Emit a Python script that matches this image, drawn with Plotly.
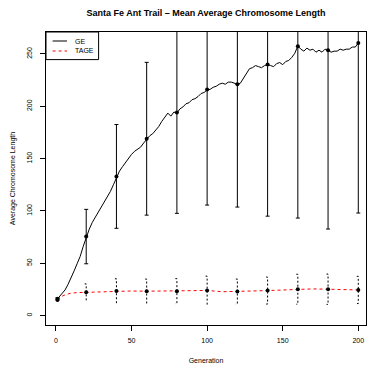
import plotly.graph_objects as go

# ---- data ----
ge_gen = [1, 2, 4, 6, 8, 10, 12, 14, 16, 18, 20, 22, 24, 26, 28, 30, 32, 34, 36, 38,
          40, 42, 44, 46, 48, 50, 52, 54, 56, 58, 60, 62, 64, 66, 68, 70, 72, 74, 76, 78,
          80, 82, 84, 86, 88, 90, 92, 94, 96, 98, 100, 102, 104, 106, 108, 110, 112, 114, 116, 118,
          120, 122, 124, 126, 128, 130, 132, 134, 136, 138, 140, 142, 144, 146, 148, 150, 152, 154, 156, 158,
          160, 162, 164, 166, 168, 170, 172, 174, 176, 178, 180, 182, 184, 186, 188, 190, 192, 194, 196, 198, 200]
ge_line = [16, 17.5, 20.5, 24.5, 29.9, 35.8, 42.7, 49.6, 56.5, 66, 75, 82.5, 89, 94, 98.9, 103.8, 108.3, 113.7, 118.6, 125,
           132, 138, 142.3, 146.2, 151.1, 154.1, 157, 159, 161, 164.9, 168.9, 171.8, 173.8, 176.8, 180.7, 185.6, 189.6, 193.5, 190.6, 194.5,
           193.5, 197.5, 199.4, 202.4, 203.4, 206.3, 207.3, 209.3, 212.2, 213.2, 215.7, 216.2, 218.2, 219.1, 221.1, 222.1, 221.1, 223.1, 223.1, 222.1,
           221.1, 222.1, 227, 231, 235.9, 236.9, 238.9, 237.9, 236.9, 238.9, 239.8, 238.9, 237.9, 240.8, 241.8, 239.8, 242.8, 243.8, 246.7, 250.7,
           257.6, 254.6, 252.7, 255.6, 253.6, 254.6, 251.7, 253.6, 251.7, 254.6, 253.6, 251.7, 252.7, 252.7, 254.6, 253.6, 254.6, 254.6, 256.6, 256.6, 260.5]

pt_gen = [1, 20, 40, 60, 80, 100, 120, 140, 160, 180, 200]
ge_mean = [16, 75.5, 133, 169, 194, 216, 221, 240, 257.5, 253.5, 260.5]
ge_sd = [1, 26, 49.6, 73, 96.3, 110.4, 117.3, 145, 164.3, 170.8, 162.5]

tage_gen = [1, 2, 4, 6, 8, 10, 15, 20, 30, 40, 50, 60, 70, 80, 90, 100, 110, 120, 130, 140,
            150, 160, 170, 180, 190, 200]
tage_line = [15, 16.5, 18.5, 19.8, 20.8, 21.5, 22, 22.3, 23, 23.6, 23.5, 23.3, 23.5, 23.3, 23.8, 24, 22.8, 22.9, 23.5, 23.9,
             24.5, 25.2, 25.5, 25.2, 24.5, 24.5]
tage_mean = [15, 22.3, 23.6, 23.3, 23.3, 24, 22.9, 23.9, 25.2, 25.2, 24.5]
tage_sd = [0.5, 8, 11.6, 11.6, 12, 13.7, 12, 12.9, 14.3, 14.5, 13]

x_ticks = [0, 50, 100, 150, 200]
y_ticks = [0, 50, 100, 150, 200, 250]
series_names = ["GE", "TAGE"]
series_colors = ["black", "red"]
series_dash = ["solid", "3px,3px"]

FONT = "Liberation Sans, Arial, sans-serif"

fig = go.Figure()

fig.add_trace(go.Scatter(x=ge_gen, y=ge_line, mode="lines", name=series_names[0], showlegend=False,
                         line=dict(color=series_colors[0], width=1, dash=series_dash[0])))
fig.add_trace(go.Scatter(x=tage_gen, y=tage_line, mode="lines", name=series_names[1], showlegend=False,
                         line=dict(color=series_colors[1], width=1, dash=series_dash[1])))

# GE error bars and mean points
fig.add_trace(go.Scatter(x=pt_gen, y=ge_mean, mode="markers", showlegend=False,
                         marker=dict(color="black", size=4),
                         error_y=dict(type="data", array=ge_sd, color="black",
                                      thickness=1, width=2)))

# TAGE dashed error bars (built from mean +/- sd)
cap = 1.0
ex, ey = [], []
for g, m, s in zip(pt_gen, tage_mean, tage_sd):
    ex += [g - cap, g, g, g - cap, None]
    ey += [m + s, m + s, m - s, m - s, None]
fig.add_trace(go.Scatter(x=ex, y=ey, mode="lines", showlegend=False,
                         line=dict(color="black", width=1, dash="2px,2px")))
fig.add_trace(go.Scatter(x=pt_gen, y=tage_mean, mode="markers", showlegend=False,
                         marker=dict(color="black", size=4)))

# compact R-style legend in the top-left corner of the plot area
PW, PH = 320.0, 293.0
shapes = [dict(type="rect", xref="x domain", yref="y domain",
               x0=0, x1=52.6 / PW, y0=1 - 27.6 / PH, y1=1,
               line=dict(color="black", width=1), fillcolor="white", layer="above")]
annotations = []
for i, (nm, col, dsh) in enumerate(zip(series_names, series_colors, series_dash)):
    yy = 1 - (9.0 + 10.0 * i) / PH
    shapes.append(dict(type="line", xref="x domain", yref="y domain",
                       x0=6.6 / PW, x1=21.0 / PW, y0=yy, y1=yy,
                       line=dict(color=col, width=1, dash=dsh), layer="above"))
    annotations.append(dict(xref="x domain", yref="y domain", x=27.0 / PW, y=yy,
                            xanchor="left", yanchor="middle", text=nm, showarrow=False,
                            font=dict(size=7, family=FONT, color="black")))

fig.update_layout(
    width=367, height=367,
    margin=dict(l=46, r=1, t=32, b=42),
    paper_bgcolor="white", plot_bgcolor="white",
    font=dict(family=FONT, size=7, color="black"),
    title=dict(text="<b>Santa Fe Ant Trail – Mean Average Chromosome Length</b>",
               x=0.5, xref="paper", xanchor="center", y=1 - 12.5 / 367, yanchor="middle",
               font=dict(size=9, family=FONT)),
    xaxis=dict(range=[-6.6, 205.1], tickvals=x_ticks, ticks="outside", ticklen=5,
               tickcolor="black", showline=True, mirror=True, linecolor="black", linewidth=1,
               showgrid=False, zeroline=False, tickfont=dict(size=7), ticklabelstandoff=4,
               title=dict(text="Generation", font=dict(size=7), standoff=14)),
    yaxis=dict(range=[-9, 271], tickvals=y_ticks, ticks="outside", ticklen=5,
               tickcolor="black", showline=True, mirror=True, linecolor="black", linewidth=1,
               showgrid=False, zeroline=False, tickangle=-90, tickfont=dict(size=7),
               ticklabelstandoff=5,
               title=dict(text="Average Chromosome Length", font=dict(size=7), standoff=9)),
    shapes=shapes,
    annotations=annotations,
)

fig.write_html("out.html")
